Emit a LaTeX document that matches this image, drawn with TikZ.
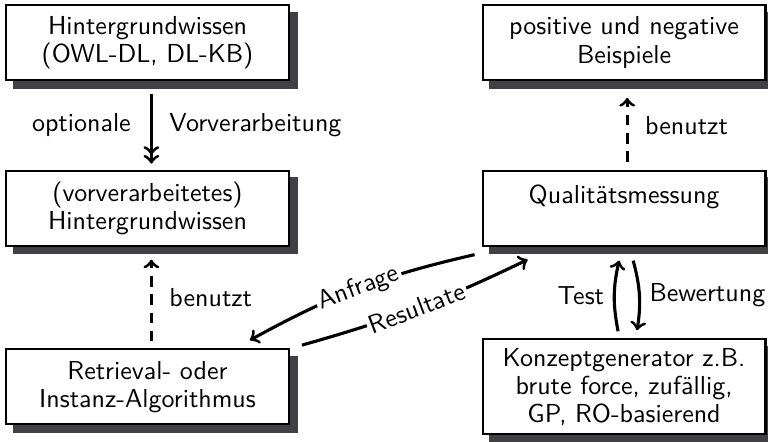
\documentclass[tikz,border=0pt]{standalone}
\usepackage{tikz}
\usetikzlibrary{arrows, positioning}
\renewcommand{\familydefault}{\sfdefault}
\definecolor{shadowgray}{rgb}{0.25,0.25,0.27}
\tikzstyle{box} = [
  rectangle,
  minimum width=108.8pt,
  minimum height=28.8pt,
  text centered,
  align=center,
  draw=black,
  thick,
  fill=white,
  font=\fontsize{10pt}{10.8pt}\selectfont
]
\tikzstyle{boxshadow} = [fill=shadowgray, draw=none]
\tikzstyle{arrow} = [very thick, ->, font=\fontsize{10pt}{10.8pt}\selectfont]
\tikzstyle{uses} = [very thick, ->, dash pattern=on 4pt off 3pt, font=\fontsize{10pt}{10.8pt}\selectfont]
\pgfdeclarelayer{background}
\pgfsetlayers{background,main}

\begin{document}
\begin{tikzpicture}[node distance=63.7pt]
    \useasboundingbox (-56.73pt,16.35pt) rectangle (238.65pt,-153.65pt);
    \node (hintergrund) [box] {Hintergrundwissen\\(OWL-DL, DL-KB)};
    \node (vorverarbeitet) [box, below of=hintergrund] {(vorverarbeitetes)\\Hintergrundwissen};
    \node (retrieval) [box, below of=vorverarbeitet, yshift=-5pt] {Retrieval- oder\\Instanz-Algorithmus};
    \node (beispiele) [box, right of=hintergrund, xshift=119.6pt] {positive und negative\\Beispiele};
    \node (qualitaet) [box, below of=beispiele] {Qualitätsmessung\\\mbox{}};
    \node (konzept) [box, below of=qualitaet, yshift=-5pt] {Konzeptgenerator z.B.\\brute force, zufällig,\\GP, RO-basierend};

    \begin{pgfonlayer}{background}
      \foreach \n in {hintergrund, vorverarbeitet, retrieval, beispiele, qualitaet, konzept}
        \fill [boxshadow] ([xshift=3pt, yshift=-3pt]\n.south west) rectangle ([xshift=3pt, yshift=-3pt]\n.north east);
    \end{pgfonlayer}

    \draw [arrow, ->>, shorten <=5pt, shorten >=2.3pt] ([xshift=1.5pt]hintergrund.south) -- node[left=4pt] {optionale} node[right=3pt] {Vorverarbeitung} ([xshift=1.5pt]vorverarbeitet.north);
    \draw [uses, shorten <=2.7pt, shorten >=5pt] ([xshift=1.5pt]retrieval.north) -- node[right=3pt] {benutzt} ([xshift=1.5pt]vorverarbeitet.south);
    \draw [uses, shorten <=3pt, shorten >=6.5pt] ([xshift=1.2pt]qualitaet.north) -- node[right=3pt] {benutzt} ([xshift=1.2pt]beispiele.south);
    \draw [arrow] ([xshift=-2.7pt, yshift=-3.1pt]qualitaet.south west) to[bend right=8] node[sloped, fill=white, inner sep=1pt] {Anfrage} ([xshift=-15.4pt, yshift=3.1pt]retrieval.north east);
    \draw [arrow] ([xshift=4.6pt, yshift=1.2pt]retrieval.north east) to[bend right=5] node[sloped, fill=white, inner sep=1pt] {Resultate} ([xshift=17.7pt, yshift=-5pt]qualitaet.south west);
    \draw [arrow] ([xshift=-2.3pt, yshift=2.7pt]konzept.north) to[bend left=12] node[left] {Test} ([xshift=-1.9pt, yshift=-5.4pt]qualitaet.south);
    \draw [arrow] ([xshift=3.5pt, yshift=-5.4pt]qualitaet.south) to[bend left=12] node[right] {Bewertung} ([xshift=5pt, yshift=3.1pt]konzept.north);
  \end{tikzpicture}
\end{document}
